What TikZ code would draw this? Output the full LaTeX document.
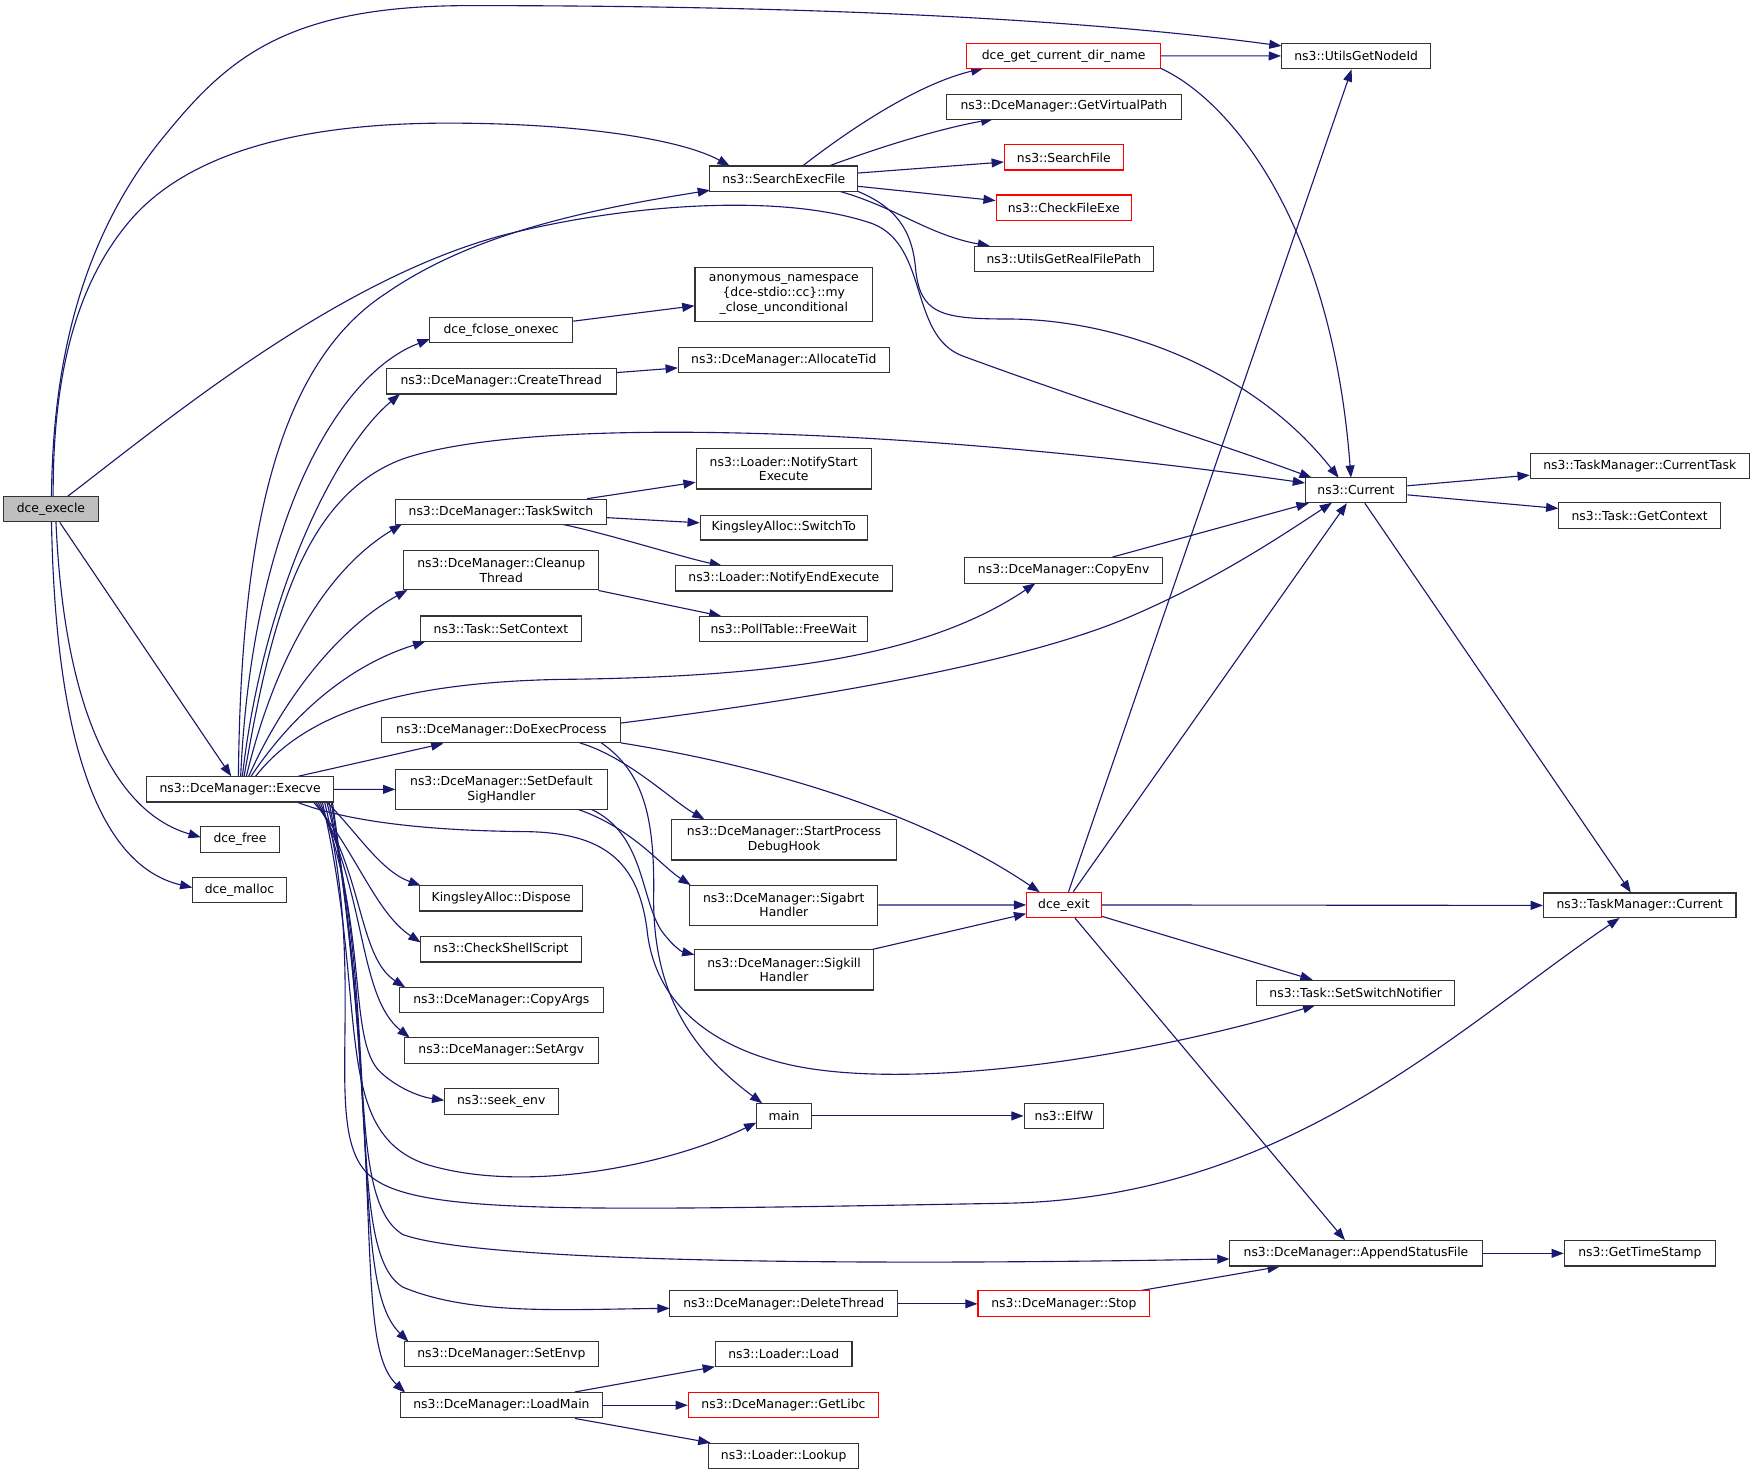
\documentclass[tikz,border=0pt]{standalone}
\usepackage{fontspec}
\newfontfamily\nodefont{DejaVu Sans}
\usetikzlibrary{arrows.meta,calc,backgrounds}
\definecolor{edgeblue}{RGB}{25,25,112}
\definecolor{execfill}{RGB}{191,191,191}
\tikzset{
  box/.style={draw=black!80, line width=0.7pt, fill=white, inner sep=0pt, align=center,
    font={\nodefont\fontsize{8.3}{9.8}\selectfont}, text=black},
  redbox/.style={box, draw=red},
  sz/.style 2 args={minimum width={#1*0.75pt}, minimum height={#2*0.75pt}},
  conn/.style={draw=edgeblue, line width=0.75pt, -{Triangle[length=8.2pt,width=6pt]}},
}
\begin{document}
\begin{tikzpicture}[x=0.75pt,y=-0.75pt]
\useasboundingbox (0,0) rectangle (1568,1318);
% ---------- nodes ----------
\node[box, sz={85}{22.5}, fill=execfill] (execle) at (45.5,455) {dce\_execle};
\node[box, sz={167}{22.5}] (execve) at (214.5,705.3) {ns3::DceManager::Execve};
\node[box, sz={70}{23}] (free) at (214.4,750) {dce\_free};
\node[box, sz={84}{22.5}] (malloc) at (214,795.2) {dce\_malloc};
\node[box, sz={132}{22.6}] (sef) at (700.3,159.6) {ns3::SearchExecFile};
\node[box, sz={133.5}{23}] (nodeid) at (1211.7,50) {ns3::UtilsGetNodeId};
\node[redbox, sz={173.4}{22.3}] (curdir) at (950.3,49.9) {dce\_get\_current\_dir\_name};
\node[box, sz={209.6}{22.3}] (vpath) at (950.6,95.2) {ns3::DceManager::GetVirtualPath};
\node[redbox, sz={106.3}{22.4}] (sfile) at (950.5,140.7) {ns3::SearchFile};
\node[redbox, sz={120.7}{22.6}] (cfe) at (950.4,185.5) {ns3::CheckFileExe};
\node[box, sz={160}{22.3}] (rfp) at (950.5,231) {ns3::UtilsGetRealFilePath};
\node[box, sz={158.7}{48.6}] (anon) at (700.3,263.1) {anonymous\_namespace\\\{dce-stdio::cc\}::my\\\_close\_unconditional};
\node[box, sz={127.8}{22.6}] (fclose) at (447.8,295.1) {dce\_fclose\_onexec};
\node[box, sz={205.2}{22.6}] (cthread) at (447.8,340.7) {ns3::DceManager::CreateThread};
\node[box, sz={188.5}{22.3}] (atid) at (700.3,321.5) {ns3::DceManager::AllocateTid};
\node[box, sz={91}{22.3}] (cur) at (1211.5,438) {ns3::Current};
\node[box, sz={195.5}{22.4}] (ctask) at (1465,416) {ns3::TaskManager::CurrentTask};
\node[box, sz={144.5}{22.9}] (gctx) at (1465,460.8) {ns3::Task::GetContext};
\node[box, sz={156.4}{35.8}] (nse) at (700.2,419) {ns3::Loader::NotifyStart\\Execute};
\node[box, sz={188.2}{22.4}] (tsw) at (447.6,457.2) {ns3::DceManager::TaskSwitch};
\node[box, sz={149}{22.3}] (swto) at (700.2,471.3) {KingsleyAlloc::SwitchTo};
\node[box, sz={193.9}{22.6}] (nee) at (700.3,516.7) {ns3::Loader::NotifyEndExecute};
\node[box, sz={174.2}{35.4}] (cleanup) at (447.8,509.4) {ns3::DceManager::Cleanup\\Thread};
\node[box, sz={150.7}{22.3}] (fwait) at (700.1,562.1) {ns3::PollTable::FreeWait};
\node[box, sz={143.5}{22.9}] (setctx) at (447.6,561.8) {ns3::Task::SetContext};
\node[box, sz={176.4}{23}] (cenv) at (950.3,509.7) {ns3::DceManager::CopyEnv};
\node[box, sz={213.8}{22.5}] (dep) at (447.9,652.5) {ns3::DceManager::DoExecProcess};
\node[box, sz={188.8}{35.7}] (sdsh) at (448,705.2) {ns3::DceManager::SetDefault\\SigHandler};
\node[box, sz={200.8}{36.3}] (spdh) at (700.5,750.2) {ns3::DceManager::StartProcess\\DebugHook};
\node[box, sz={168.2}{35.7}] (sabrt) at (700.3,808.6) {ns3::DceManager::Sigabrt\\Handler};
\node[box, sz={160}{35.8}] (skill) at (700.5,866.6) {ns3::DceManager::Sigkill\\Handler};
\node[redbox, sz={66.6}{22.7}] (dexit) at (950.6,808.5) {dce\_exit};
\node[box, sz={172}{22.3}] (tmcur) at (1465,809) {ns3::TaskManager::Current};
\node[box, sz={176.8}{22.3}] (ssn) at (1211.3,887) {ns3::Task::SetSwitchNotifier};
\node[box, sz={145.8}{22.6}] (dispose) at (447.8,802.6) {KingsleyAlloc::Dispose};
\node[box, sz={143.7}{22.6}] (css) at (447.7,848.2) {ns3::CheckShellScript};
\node[box, sz={181.8}{22.6}] (cargs) at (447.9,893.4) {ns3::DceManager::CopyArgs};
\node[box, sz={173.4}{22.9}] (sargv) at (447.9,938.5) {ns3::DceManager::SetArgv};
\node[box, sz={101.8}{22.7}] (seekenv) at (447.8,984) {ns3::seek\_env};
\node[box, sz={49.5}{22.6}] (main) at (700.5,997) {main};
\node[box, sz={71}{22.6}] (elfw) at (950.5,997) {ns3::ElfW};
\node[box, sz={226}{22.6}] (asf) at (1211.5,1119.8) {ns3::DceManager::AppendStatusFile};
\node[box, sz={135}{22.6}] (gts) at (1465.1,1119.8) {ns3::GetTimeStamp};
\node[box, sz={203.9}{23}] (dthread) at (700.3,1164.9) {ns3::DceManager::DeleteThread};
\node[redbox, sz={153.4}{23}] (stop) at (950.5,1164.9) {ns3::DceManager::Stop};
\node[box, sz={173.7}{22.6}] (senvp) at (448,1210) {ns3::DceManager::SetEnvp};
\node[box, sz={122}{22.6}] (load) at (700.2,1210) {ns3::Loader::Load};
\node[box, sz={181}{22.7}] (lmain) at (448,1255.5) {ns3::DceManager::LoadMain};
\node[redbox, sz={170}{22.7}] (libc) at (700,1255.5) {ns3::DceManager::GetLibc};
\node[box, sz={134.4}{22.6}] (lookup) at (700.2,1300.8) {ns3::Loader::Lookup};
% ---------- edges ----------
\begin{scope}[on background layer]
\fill[white] (0,0) rectangle (1568,1318);
% from dce_execle
\draw[conn] ($(execle)+(0.5,-11.25)$) .. controls (47,330) and (70,220) .. (140,130)
  .. controls (200,55) and (250,5) .. (420,5) .. controls (700,5) and (950,15) .. ($(nodeid)+(-66.75,-9)$);
\draw[conn] ($(execle)+(2,-11.25)$) .. controls (47,330) and (70,250) .. (118,195)
  .. controls (180,125) and (300,110) .. (400,110) .. controls (520,110) and (610,125) .. ($(sef)+(-48.3,-11.3)$);
\draw[conn] ($(execle)+(14.5,-11.25)$) .. controls (150,375) and (300,250) .. (450,210)
  .. controls (560,182) and (700,172) .. (780,200) .. controls (830,220) and (812,300) .. (860,318)
  .. controls (960,355) and (1100,400) .. ($(cur)+(-39.5,-11.15)$);
\draw[conn] (execle) -- (execve);
\draw[conn] ($(execle)+(4.5,11.25)$) .. controls (58,650) and (110,728) .. ($(free)+(-35,-2)$);
\draw[conn] ($(execle)+(0.5,11.25)$) .. controls (50,680) and (95,775) .. ($(malloc)+(-42.2,-2.2)$);
% from SearchExecFile
\draw[conn] ($(sef)+(16.7,-11.3)$) .. controls (760,115) and (820,75) .. ($(curdir)+(-71.8,11.15)$);
\draw[conn] ($(sef)+(40.3,-11.3)$) .. controls (790,130) and (840,115) .. ($(vpath)+(-63.2,11.15)$);
\draw[conn] (sef) -- (sfile);
\draw[conn] (sef) -- (cfe);
\draw[conn] ($(sef)+(49.7,11.3)$) .. controls (800,185) and (830,210) .. ($(rfp)+(-66,-11.15)$);
\draw[conn] ($(sef)+(66,11.3)$) .. controls (800,185) and (815,205) .. (818,240)
  .. controls (822,280) and (840,285) .. (900,285) .. controls (1000,285) and (1120,330) .. ($(cur)+(-15.5,-11.15)$);
% dce_get_current_dir_name
\draw[conn] (curdir) -- (nodeid);
\draw[conn] ($(curdir)+(86.7,11.15)$) .. controls (1100,90) and (1190,200) .. ($(cur)+(-4.5,-11.15)$);
% ns3::Current
\draw[conn] (cur) -- (ctask);
\draw[conn] (cur) -- (gctx);
\draw[conn] (cur) -- (tmcur);
% Execve upper fan
\draw[conn] ($(execve)+(-1.5,-11.25)$) .. controls (215,500) and (240,330) .. (345,262)
  .. controls (420,210) and (520,188) .. ($(sef)+(-66,10.4)$);
\draw[conn] ($(execve)+(0.5,-11.25)$) .. controls (225,470) and (300,335) .. ($(fclose)+(-63.8,7.9)$);
\draw[conn] ($(execve)+(2,-11.25)$) .. controls (235,530) and (300,400) .. ($(cthread)+(-90.4,11.3)$);
\draw[conn] ($(execve)+(3.5,-11.25)$) .. controls (240,570) and (265,445) .. (360,410)
  .. controls (470,372) and (800,380) .. ($(cur)+(-45.5,-6.5)$);
\draw[conn] ($(execve)+(5.5,-11.25)$) .. controls (245,590) and (290,510) .. ($(tsw)+(-88.6,11.2)$);
\draw[conn] ($(execve)+(7.5,-11.25)$) .. controls (255,620) and (305,560) .. ($(cleanup)+(-83.8,17.7)$);
\draw[conn] ($(execve)+(9.5,-11.25)$) .. controls (260,640) and (310,595) .. ($(setctx)+(-67.6,11.4)$);
\draw[conn] ($(execve)+(13.5,-11.25)$) .. controls (270,640) and (350,610) .. (500,607)
  .. controls (700,605) and (830,585) .. ($(cenv)+(-25.3,11.5)$);
\draw[conn] (execve) -- (dep);
\draw[conn] (execve) -- (sdsh);
% Execve right / lower fan
\draw[conn] ($(execve)+(50.5,11.25)$) .. controls (300,730) and (360,742) .. (470,743)
  .. controls (540,744) and (570,770) .. (578,830) .. controls (585,900) and (640,935) .. (700,950)
  .. controls (800,975) and (1000,950) .. ($(ssn)+(-36.3,11.2)$);
\draw[conn] ($(execve)+(77.5,11.25)$) .. controls (320,745) and (340,778) .. ($(dispose)+(-71.8,-11.3)$);
\draw[conn] ($(execve)+(65.5,11.25)$) .. controls (318,760) and (335,815) .. ($(css)+(-71.9,-6.2)$);
\draw[conn] ($(execve)+(67.5,11.25)$) .. controls (325,780) and (320,855) .. ($(cargs)+(-85.9,-11.3)$);
\draw[conn] ($(execve)+(69.5,11.25)$) .. controls (328,800) and (320,890) .. ($(sargv)+(-81.9,-11.4)$);
\draw[conn] ($(execve)+(71.5,11.25)$) .. controls (330,830) and (310,930) .. (340,958)
  .. controls (355,972) and (375,980) .. ($(seekenv)+(-50.9,-1)$);
\draw[conn] ($(execve)+(73.5,11.25)$) .. controls (330,900) and (295,1010) .. (380,1040)
  .. controls (470,1068) and (600,1040) .. ($(main)+(-24.8,6)$);
\draw[conn] ($(execve)+(75.5,11.25)$) .. controls (330,880) and (285,1010) .. (330,1050)
  .. controls (370,1085) and (500,1082) .. (900,1075) .. controls (1150,1070) and (1300,920) .. ($(tmcur)+(-18,11.15)$);
\draw[conn] ($(execve)+(77.5,11.25)$) .. controls (340,900) and (305,1070) .. (360,1103)
  .. controls (420,1125) and (700,1132) .. ($(asf)+(-113,5)$);
\draw[conn] ($(execve)+(79.5,11.25)$) .. controls (340,950) and (310,1120) .. (360,1150)
  .. controls (420,1175) and (500,1170) .. ($(dthread)+(-102,4)$);
\draw[conn] ($(execve)+(81.5,11.25)$) .. controls (340,1000) and (315,1150) .. ($(senvp)+(-83,-11.3)$);
\draw[conn] ($(execve)+(82.5,11.25)$) .. controls (345,1050) and (315,1200) .. ($(lmain)+(-86,-11.3)$);
% small chains
\draw[conn] (fclose) -- (anon);
\draw[conn] (cthread) -- (atid);
\draw[conn] (tsw) -- (nse);
\draw[conn] (tsw) -- (swto);
\draw[conn] ($(tsw)+(54.4,11.2)$) .. controls (540,476) and (610,498) .. ($(nee)+(-55.3,-11.3)$);
\draw[conn] (cleanup) -- (fwait);
\draw[conn] (cenv) -- (cur);
% DoExecProcess
\draw[conn] ($(dep)+(106.9,-6.5)$) .. controls (720,625) and (900,595) .. (1000,555)
  .. controls (1080,522) and (1140,482) .. ($(cur)+(-21.5,11.15)$);
\draw[conn] ($(dep)+(70.1,11.25)$) .. controls (560,676) and (600,715) .. ($(spdh)+(-71.1,-18.15)$);
\draw[conn] ($(dep)+(89.4,11.25)$) .. controls (575,690) and (585,730) .. (584,800)
  .. controls (583,890) and (620,940) .. ($(main)+(-19.5,-11.3)$);
\draw[conn] ($(dep)+(106.9,11.25)$) .. controls (720,690) and (845,740) .. ($(dexit)+(-21.6,-11.35)$);
% SetDefaultSigHandler
\draw[conn] ($(sdsh)+(68.2,17.85)$) .. controls (565,740) and (590,773) .. ($(sabrt)+(-83.3,-17.85)$);
\draw[conn] ($(sdsh)+(80.3,17.85)$) .. controls (575,745) and (572,800) .. (590,830)
  .. controls (598,842) and (608,850) .. ($(skill)+(-80.1,-13.6)$);
\draw[conn] (sabrt) -- (dexit);
\draw[conn] (skill) -- (dexit);
% dce_exit
\draw[conn] (dexit) -- (nodeid);
\draw[conn] (dexit) -- (cur);
\draw[conn] (dexit) -- (tmcur);
\draw[conn] (dexit) -- (ssn);
\draw[conn] (dexit) -- (asf);
% bottom
\draw[conn] (main) -- (elfw);
\draw[conn] (asf) -- (gts);
\draw[conn] (dthread) -- (stop);
\draw[conn] (stop) -- (asf);
\draw[conn] (lmain) -- (load);
\draw[conn] (lmain) -- (libc);
\draw[conn] (lmain) -- (lookup);
\end{scope}
\end{tikzpicture}
\end{document}
